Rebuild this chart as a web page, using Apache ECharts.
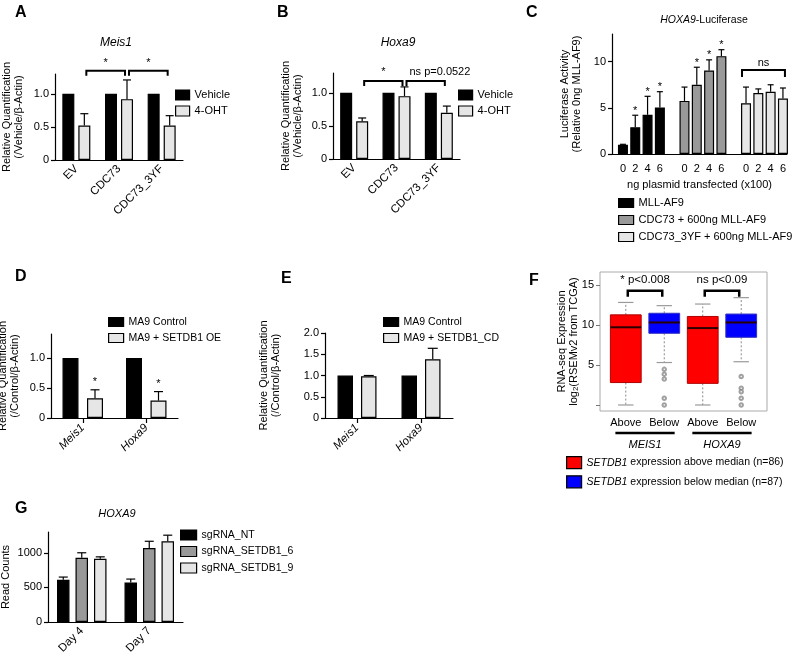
<!DOCTYPE html>
<html><head><meta charset="utf-8">
<script src="https://cdn.jsdelivr.net/npm/echarts@6/dist/echarts.min.js"></script>
<style>html,body{margin:0;padding:0;background:#fff}#c{width:796px;height:656px}</style>
</head><body><div id="c"></div>
<script>
const FONT = '"Liberation Sans", Arial, Helvetica, sans-serif';

// ---------- Panel A : Meis1 ----------
const catsA = ['EV', 'CDC73', 'CDC73_3YF'];
const vehicleA = [1, 1, 1];
const ohtA = [0.52, 0.92, 0.52];
const ohtErrA = [0.18, 0.29, 0.15];
const sigA = [[0, 1, 1.35], [1, 2, 1.35]];
const sigTextA = ['*', '*'];

// ---------- Panel B : Hoxa9 ----------
const catsB = ['EV', 'CDC73', 'CDC73_3YF'];
const vehicleB = [1, 1, 1];
const ohtB = [0.57, 0.95, 0.70];
const ohtErrB = [0.05, 0.14, 0.10];
const sigB = [[0, 1, 1.18], [1, 2, 1.18]];
const sigTextB = ['*', 'ns p=0.0522'];

// ---------- Panel C : HOXA9-Luciferase ----------
const dosesC = ['0', '2', '4', '6'];
const mllC = [1.0, 2.9, 4.25, 5.05];
const mllErrC = [0.05, 1.3, 2.0, 1.7];
const mllStarC = [0, 1, 1, 1];
const cdcC = [5.75, 7.5, 9.05, 10.6];
const cdcErrC = [1.5, 1.9, 1.15, 0.7];
const cdcStarC = [0, 1, 1, 1];
const yfC = [5.5, 6.6, 6.75, 6.0];
const yfErrC = [1.75, 0.45, 0.75, 1.15];
const yfStarC = [0, 0, 0, 0];
const sigGroupC = 2, sigLevelC = 9.1, sigTextC = ['ns'];

// ---------- Panel D ----------
const genesD = ['Meis1', 'Hoxa9'];
const ctrlD = [1, 1];
const oeD = [0.33, 0.29];
const oeErrD = [0.14, 0.15];
const oeStarD = [1, 1];

// ---------- Panel E ----------
const genesE = ['Meis1', 'Hoxa9'];
const ctrlE = [1, 1];
const cdE = [0.98, 1.38];
const cdErrE = [0.02, 0.26];

// ---------- Panel F : boxplots [min, Q1, median, Q3, max] ----------
const groupsF = ['Above', 'Below', 'Above', 'Below'];
const genesF = ['MEIS1', 'HOXA9'];
const aboveF = [[0, 2.8, 9.7, 11.25, 12.8], [0, 2.7, 9.6, 11.05, 12.6]];
const belowF = [[5.3, 8.95, 10.3, 11.45, 12.4], [5.4, 8.45, 10.3, 11.35, 13.4]];
const outBelowF = [[4.45, 3.85, 3.25, 0.85, 0], [3.55, 2.1, 1.65, 0.85, 0]];
const sigF = [[1, 2, 14.25], [3, 4, 14.25]];
const sigTextF = ['* p<0.008', 'ns p<0.09'];
const F_YMIN = -0.75, F_YMAX = 16.6;

// ---------- Panel G : HOXA9 read counts ----------
const daysG = ['Day 4', 'Day 7'];
const ntG = [610, 571], ntErrG = [39, 49];
const s6G = [927, 1068], s6ErrG = [73, 98];
const s9G = [912, 1166], s9ErrG = [29, 88];

// ---------- helpers ----------
const AX = {color: '#000', width: 1.2};
const BLACK = '#000', GRAY = '#999999', LIGHT = '#e6e6e6';

function grid(left, top, width, height, extra) {
  return Object.assign({left, top, width, height, containLabel: false, outerBoundsMode: 'none'}, extra || {});
}
function yVal(gi, min, max, ticks, fmt, name, nameGap, extra) {
  return Object.assign({
    type: 'value', gridIndex: gi, min, max,
    axisLine: {show: true, onZero: false, lineStyle: AX},
    axisTick: {show: true, length: 4, lineStyle: AX, customValues: ticks},
    axisLabel: {customValues: ticks, formatter: fmt, fontSize: 11, color: '#000', margin: 6, fontFamily: FONT},
    splitLine: {show: false},
    name, nameLocation: 'middle', nameRotate: 90, nameGap, nameMoveOverlap: false,
    nameTextStyle: {fontSize: 11, color: '#000', lineHeight: 12, fontFamily: FONT}
  }, extra || {});
}
function xCat(gi, cats, extra) {
  return Object.assign({
    type: 'category', gridIndex: gi, data: cats,
    axisLine: {show: true, onZero: false, lineStyle: AX},
    axisTick: {show: false},
    axisLabel: {rotate: 45, fontSize: 11.5, color: '#000', margin: 7, interval: 0, fontFamily: FONT},
    splitLine: {show: false}
  }, extra || {});
}
const dec1 = v => v === 0 ? '0' : v.toFixed(1);
const offs = (n, bw, gap) => Array.from({length: n}, (_, k) => (k - (n - 1) / 2) * (bw + gap));

function bars(name, gi, data, color, bw, gapPx) {
  return {type: 'bar', name, xAxisIndex: gi, yAxisIndex: gi, data, barWidth: bw,
    barGap: gapPx === null ? '-100%' : (gapPx / bw * 100) + '%', silent: true, z: 2,
    itemStyle: {color, borderColor: '#000', borderWidth: 1.2}};
}
function errs(name, gi, xs, vals, ers, off, capW, stars, starGap) {
  return {type: 'custom', name, xAxisIndex: gi, yAxisIndex: gi, z: 3, silent: true,
    encode: {x: 0, y: [1, 2]},
    data: vals.map((v, i) => [xs[i], v, v + ers[i], stars ? stars[i] : 0]),
    renderItem(p, api) {
      const b = api.coord([api.value(0), api.value(1)]);
      const t = api.coord([api.value(0), api.value(2)]);
      const x = b[0] + off;
      const ch = [
        {type: 'line', shape: {x1: x, y1: b[1], x2: x, y2: t[1]}, style: {stroke: '#000', lineWidth: 1.2}},
        {type: 'line', shape: {x1: x - capW / 2, y1: t[1], x2: x + capW / 2, y2: t[1]}, style: {stroke: '#000', lineWidth: 1.2}}
      ];
      if (api.value(3)) ch.push({type: 'text', style: {text: '*', x, y: t[1] - starGap, align: 'center', verticalAlign: 'bottom', fontSize: 11, fontFamily: FONT, fill: '#000'}});
      return {type: 'group', children: ch};
    }};
}
function bracket(name, gi, items, texts, o1, o2, tick, lw, fontSize, textGap, aligns) {
  return {type: 'custom', name, xAxisIndex: gi, yAxisIndex: gi, z: 5, silent: true,
    encode: {x: [0, 1], y: 2}, data: items,
    renderItem(p, api) {
      const a = api.coord([api.value(0), api.value(2)]);
      const b = api.coord([api.value(1), api.value(2)]);
      const x1 = a[0] + o1, x2 = b[0] + o2, y = a[1];
      const al = aligns ? aligns[p.dataIndex] : 'center';
      const tx = al === 'left' ? x1 + 3 : (x1 + x2) / 2;
      return {type: 'group', children: [
        {type: 'polyline', shape: {points: [[x1, y + tick], [x1, y], [x2, y], [x2, y + tick]]}, style: {stroke: '#000', lineWidth: lw, fill: null}},
        {type: 'text', style: {text: texts[p.dataIndex], x: tx, y: y - textGap, align: al, verticalAlign: 'bottom', fontSize, fontFamily: FONT, fill: '#000'}}
      ]};
    }};
}
function boxes(name, xs, stats, color, border) {
  return {type: 'custom', name, xAxisIndex: 5, yAxisIndex: 5, z: 2, silent: true,
    itemStyle: {color},
    encode: {x: 0, y: [1, 2, 3, 4, 5]},
    data: stats.map((s, i) => [xs[i]].concat(s)),
    renderItem(p, api) {
      const x = api.value(0);
      const c = k => api.coord([x, api.value(k)]);
      const pMin = c(1), pQ1 = c(2), pMed = c(3), pQ3 = c(4), pMax = c(5);
      const cx = pMin[0];
      const hw = api.size([0.4, 0])[0], cw = api.size([0.2, 0])[0];
      const dash = {stroke: '#8a8a8a', lineWidth: 1, lineDash: [2, 2]};
      const cap = {stroke: '#9a9a9a', lineWidth: 1.2};
      return {type: 'group', children: [
        {type: 'line', shape: {x1: cx, y1: pQ3[1], x2: cx, y2: pMax[1]}, style: dash},
        {type: 'line', shape: {x1: cx, y1: pQ1[1], x2: cx, y2: pMin[1]}, style: dash},
        {type: 'line', shape: {x1: cx - cw, y1: pMax[1], x2: cx + cw, y2: pMax[1]}, style: cap},
        {type: 'line', shape: {x1: cx - cw, y1: pMin[1], x2: cx + cw, y2: pMin[1]}, style: cap},
        {type: 'rect', shape: {x: cx - hw, y: pQ3[1], width: 2 * hw, height: pQ1[1] - pQ3[1]}, style: {fill: color, stroke: border, lineWidth: 1}},
        {type: 'line', shape: {x1: cx - hw, y1: pMed[1], x2: cx + hw, y2: pMed[1]}, style: {stroke: '#2a0000', lineWidth: 2}}
      ]};
    }};
}
function legend(names, left, top, iw, ih, gap, fs, extra) {
  return Object.assign({data: names, left, top, orient: 'vertical', itemWidth: iw, itemHeight: ih, itemGap: gap,
    padding: 0, icon: 'rect', selectedMode: false,
    itemStyle: {borderColor: '#000', borderWidth: 1.2},
    textStyle: {fontSize: fs, color: '#000', fontFamily: FONT, lineHeight: 12}}, extra || {});
}

// Panel C positions
const posC = (g, d) => g * 5 + d;
const xsC = g => dosesC.map((_, d) => posC(g, d));
const tickPosC = [0, 1, 2].flatMap(g => xsC(g));

const offA = offs(2, 12, 4), offD = offs(2, 16, 8.5), offE = offs(2, 15.5, 8), offG = offs(3, 12.5, 6);
const idx = arr => arr.map((_, i) => i);

const namesC = ['MLL-AF9', 'CDC73 + 600ng MLL-AF9', 'CDC73_3YF + 600ng MLL-AF9'];
const namesF = ['SETDB1 expression above median (n=86)', 'SETDB1 expression below median (n=87)'];

const option = {
  animation: false,
  textStyle: {fontFamily: FONT, color: '#000'},
  title: [
    ...[['A', 15, 5], ['B', 277, 5], ['C', 526, 5], ['D', 15, 269], ['E', 281, 271], ['F', 529, 273], ['G', 15, 501]].map(t => ({
      text: t[0], left: t[1], top: t[2], padding: 0,
      textStyle: {fontSize: 16, fontWeight: 'bold', color: '#000', fontFamily: FONT}})),
    {text: 'Meis1', left: 116, top: 37, padding: 0, textAlign: 'center', textStyle: {fontSize: 12, fontStyle: 'italic', fontWeight: 'normal', color: '#000', fontFamily: FONT}},
    {text: 'Hoxa9', left: 398, top: 37, padding: 0, textAlign: 'center', textStyle: {fontSize: 12, fontStyle: 'italic', fontWeight: 'normal', color: '#000', fontFamily: FONT}},
    {text: '{i|HOXA9}-Luciferase', left: 704, top: 15, padding: 0, textAlign: 'center',
      textStyle: {fontSize: 10.5, fontWeight: 'normal', color: '#000', fontFamily: FONT, rich: {i: {fontStyle: 'italic', fontSize: 10.5, fontFamily: FONT}}}},
    {text: 'HOXA9', left: 117, top: 508, padding: 0, textAlign: 'center', textStyle: {fontSize: 11, fontStyle: 'italic', fontWeight: 'normal', color: '#000', fontFamily: FONT}}
  ],
  legend: [
    legend(['Vehicle', '4-OHT'], 175, 89, 14, 10, 4, 11),
    legend(['Vehicle', '4-OHT'], 458, 89, 14, 10, 4, 11),
    legend(namesC, 618, 197, 15, 9, 5, 11),
    legend(['MA9 Control', 'MA9 + SETDB1 OE'], 108, 316, 15, 9, 4, 10.5),
    legend(['MA9 Control', 'MA9 + SETDB1_CD'], 383, 316, 15, 9, 4, 10.5),
    legend(namesF, 566, 456, 15, 12, 6, 10.5, {formatter: n => n.replace('SETDB1', '{i|SETDB1}'),
      textStyle: {fontSize: 10.5, color: '#000', fontFamily: FONT, lineHeight: 12, rich: {i: {fontStyle: 'italic', fontSize: 10.5, fontFamily: FONT}}}}),
    legend(['sgRNA_NT', 'sgRNA_SETDB1_6', 'sgRNA_SETDB1_9'], 180, 529, 16, 10, 4.5, 10.5)
  ],
  grid: [
    grid(55, 74, 128, 86),
    grid(333, 73, 127, 86),
    grid(612, 34, 175, 120),
    grid(51, 334, 127, 84),
    grid(325, 333, 128, 85),
    grid(600, 272, 167, 139, {show: true, borderColor: '#aaaaaa', borderWidth: 1, backgroundColor: 'transparent'}),
    grid(48, 532, 135, 90)
  ],
  xAxis: [
    xCat(0, catsA),
    xCat(1, catsB),
    {type: 'value', gridIndex: 2, min: -0.89, max: 13.33,
      axisLine: {show: true, onZero: false, lineStyle: AX}, axisTick: {show: false}, splitLine: {show: false},
      axisLabel: {customValues: tickPosC, formatter: v => dosesC[Math.round(v) % 5], fontSize: 11, color: '#000', margin: 9, fontFamily: FONT},
      name: 'ng plasmid transfected (x100)', nameLocation: 'middle', nameGap: 25,
      nameTextStyle: {fontSize: 11, color: '#000', fontFamily: FONT}},
    xCat(3, genesD, {axisTick: {show: true, alignWithLabel: true, length: 5, lineStyle: AX},
      axisLabel: {rotate: 45, fontSize: 11.5, fontStyle: 'italic', color: '#000', margin: 8, interval: 0, fontFamily: FONT}}),
    xCat(4, genesE, {axisTick: {show: true, alignWithLabel: true, length: 5, lineStyle: AX},
      axisLabel: {rotate: 45, fontSize: 11.5, fontStyle: 'italic', color: '#000', margin: 8, interval: 0, fontFamily: FONT}}),
    {type: 'value', gridIndex: 5, min: 0.33, max: 4.67,
      axisLine: {show: false, onZero: false}, axisTick: {show: false}, splitLine: {show: false},
      axisLabel: {customValues: [1, 2, 3, 4], formatter: v => groupsF[Math.round(v) - 1], fontSize: 11, color: '#000', margin: 6, fontFamily: FONT}},
    xCat(6, daysG)
  ],
  yAxis: [
    yVal(0, 0, 1.3, [0, 0.5, 1.0], dec1, 'Relative Quantification\n(/Vehicle/β-Actin)', 30),
    yVal(1, 0, 1.3, [0, 0.5, 1.0], dec1, 'Relative Quantification\n(/Vehicle/β-Actin)', 29),
    yVal(2, 0, 13, [0, 5, 10], v => String(v), 'Luciferase Activity\n(Relative 0ng MLL-AF9)', 29),
    yVal(3, 0, 1.4, [0, 0.5, 1.0], dec1, 'Relative Quantification\n(/Control/β-Actin)', 30),
    yVal(4, 0, 2.0, [0, 0.5, 1.0, 1.5, 2.0], dec1, 'Relative Quantification\n(/Control/β-Actin)', 43),
    yVal(5, F_YMIN, F_YMAX, [0, 5, 10, 15], v => String(v), 'RNA-seq Expression\nlog{sub|2}(RSEMv2 from TCGA)', 20, {
      axisLine: {show: false, onZero: false},
      axisTick: {show: true, length: 4, lineStyle: {color: '#777', width: 1}, customValues: [0, 5, 10, 15]},
      axisLabel: {customValues: [5, 10, 15], fontSize: 11, color: '#000', margin: 6, fontFamily: FONT},
      nameTextStyle: {fontSize: 11, color: '#000', lineHeight: 12, fontFamily: FONT,
        rich: {sub: {fontSize: 8, fontFamily: FONT, verticalAlign: 'bottom', padding: [5, 0, 0, 0]}}}}),
    yVal(6, 0, 1300, [0, 500, 1000], v => String(v), 'Read Counts', 36)
  ],
  series: [
    // A
    bars('Vehicle', 0, vehicleA, BLACK, 12, 4),
    bars('4-OHT', 0, ohtA, LIGHT, 12, 4),
    errs('errA', 0, idx(catsA), ohtA, ohtErrA, offA[1], 8),
    bracket('sigA', 0, sigA, sigTextA, offA[1] + 2, offA[1] - 2, 5, 2, 11, 2),
    // B
    bars('Vehicle', 1, vehicleB, BLACK, 12, 4),
    bars('4-OHT', 1, ohtB, LIGHT, 12, 4),
    errs('errB', 1, idx(catsB), ohtB, ohtErrB, offA[1], 8),
    bracket('sigB', 1, sigB, sigTextB, offA[1] + 2, offA[1] - 2, 5, 2, 11, 3, ['center', 'left']),
    // C
    bars(namesC[0], 2, mllC.map((v, d) => [posC(0, d), v]), BLACK, 10, null),
    bars(namesC[1], 2, cdcC.map((v, d) => [posC(1, d), v]), GRAY, 10, null),
    bars(namesC[2], 2, yfC.map((v, d) => [posC(2, d), v]), LIGHT, 10, null),
    errs('errC0', 2, xsC(0), mllC, mllErrC, 0, 6, mllStarC, -1),
    errs('errC1', 2, xsC(1), cdcC, cdcErrC, 0, 6, cdcStarC, -1),
    errs('errC2', 2, xsC(2), yfC, yfErrC, 0, 6, yfStarC, -1),
    bracket('sigC', 2, [[posC(sigGroupC, 0), posC(sigGroupC, 3), sigLevelC]], sigTextC, -4, 2, 7, 2, 11, 2),
    // D
    bars('MA9 Control', 3, ctrlD, BLACK, 16, 8.5),
    bars('MA9 + SETDB1 OE', 3, oeD, LIGHT, 16, 8.5),
    errs('errD', 3, idx(genesD), oeD, oeErrD, offD[1], 9, oeStarD, 2),
    // E
    bars('MA9 Control', 4, ctrlE, BLACK, 15.5, 8),
    bars('MA9 + SETDB1_CD', 4, cdE, LIGHT, 15.5, 8),
    errs('errE', 4, idx(genesE), cdE, cdErrE, offE[1], 10),
    // F
    boxes(namesF[0], [1, 3], aboveF, '#ff0000', '#b00000'),
    boxes(namesF[1], [2, 4], belowF, '#0000ff', '#3030c0'),
    {type: 'scatter', name: 'outliersF', xAxisIndex: 5, yAxisIndex: 5, silent: true, z: 4,
      symbol: 'emptyCircle', symbolSize: 3.5,
      itemStyle: {color: '#8a8a8a', borderWidth: 0.8},
      data: outBelowF.flatMap((arr, g) => arr.map(v => [2 * g + 2, v]))},
    bracket('sigF', 5, sigF, sigTextF, 2, -2, 6, 2.5, 11.5, 5),
    {type: 'custom', name: 'genesF', xAxisIndex: 5, yAxisIndex: 5, silent: true,
      encode: {x: [0, 1], y: 2},
      data: genesF.map((g, i) => [2 * i + 1, 2 * i + 2, F_YMIN]),
      renderItem(p, api) {
        const a = api.coord([api.value(0), api.value(2)]);
        const b = api.coord([api.value(1), api.value(2)]);
        const ext = api.size([0.27, 0])[0];
        const y = a[1];
        return {type: 'group', children: [
          {type: 'line', shape: {x1: a[0] - ext, y1: y + 22, x2: b[0] + ext, y2: y + 22}, style: {stroke: '#000', lineWidth: 2.5}},
          {type: 'text', style: {text: genesF[p.dataIndex], x: (a[0] + b[0]) / 2, y: y + 34, align: 'center', verticalAlign: 'middle',
            fontSize: 11, fontStyle: 'italic', fontFamily: FONT, fill: '#000'}}
        ]};
      }},
    // G
    bars('sgRNA_NT', 6, ntG, BLACK, 12.5, 6),
    bars('sgRNA_SETDB1_6', 6, s6G, GRAY, 12.5, 6),
    bars('sgRNA_SETDB1_9', 6, s9G, LIGHT, 12.5, 6),
    errs('errG0', 6, idx(daysG), ntG, ntErrG, offG[0], 9),
    errs('errG1', 6, idx(daysG), s6G, s6ErrG, offG[1], 9),
    errs('errG2', 6, idx(daysG), s9G, s9ErrG, offG[2], 9)
  ]
};

const chart = echarts.init(document.getElementById('c'), null, {renderer: 'canvas', width: 796, height: 656});
chart.setOption(option);
</script></body></html>
